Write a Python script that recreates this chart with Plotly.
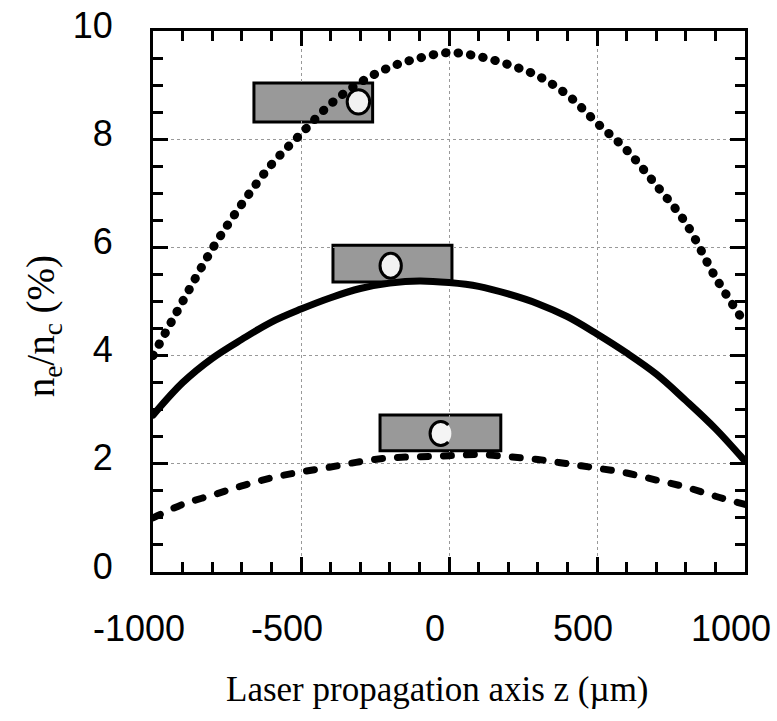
import plotly.graph_objects as go

# Electron density profiles along the laser axis for three gas-jet configurations
z_um = [-1000, -900, -800, -700, -600, -500, -400, -300, -200, -100, 0,
        100, 200, 300, 400, 500, 600, 700, 800, 900, 1000]

density_high = [4.0, 5.0, 5.97, 6.8, 7.53, 8.1, 8.65, 9.05, 9.33, 9.5, 9.6,
                9.53, 9.38, 9.17, 8.82, 8.3, 7.8, 7.15, 6.45, 5.45, 4.6]
density_mid = [2.9, 3.5, 3.95, 4.3, 4.62, 4.86, 5.07, 5.24, 5.34, 5.38, 5.35,
               5.28, 5.14, 4.96, 4.72, 4.4, 4.05, 3.66, 3.17, 2.65, 2.05]
density_low = [1.0, 1.25, 1.42, 1.59, 1.74, 1.85, 1.94, 2.04, 2.11, 2.13, 2.15,
               2.17, 2.13, 2.08, 2.0, 1.92, 1.83, 1.7, 1.57, 1.4, 1.25]

x_tick_vals = [-1000, -500, 0, 500, 1000]
x_tick_text = ["-1000", "-500", "0", "500", "1000"]
y_tick_vals = [0, 2, 4, 6, 8, 10]
y_tick_text = ["0", "2", "4", "6", "8", "10"]

# Nozzle sketches: (x0, x1, y0, y1) of the gray block, and ellipse centre/radii
nozzle_blocks = [(-659, -258, 8.32, 9.04), (-392, 10, 5.36, 6.04), (-233, 175, 2.24, 2.9)]
nozzle_holes = [(-306, 8.69, 38, 0.225), (-197, 5.66, 36, 0.23), (-28, 2.56, 36, 0.22)]

TICK_FONT = dict(family="Liberation Sans, Arial, sans-serif", size=36, color="black")
XTITLE_FONT = dict(family="Liberation Serif, Times New Roman, serif", size=35, color="black")
YTITLE_FONT = dict(family="Liberation Serif, Times New Roman, serif", size=39, color="black")

fig = go.Figure()
fig.add_trace(go.Scatter(x=z_um, y=density_high, mode="lines",
                         line=dict(color="black", width=9, dash="0.5px,12px", shape="spline")))
fig.add_trace(go.Scatter(x=z_um, y=density_mid, mode="lines",
                         line=dict(color="black", width=7, shape="spline")))
fig.add_trace(go.Scatter(x=z_um, y=density_low, mode="lines",
                         line=dict(color="black", width=7, dash="8px,15px", shape="spline")))


def c_outline(cx, cy, rx, ry):
    """Open ellipse outline (gap on the right side) as an SVG path in data units."""
    c45, k45, k90 = 0.7071, 0.2652, 0.5523
    p = lambda u, v: f"{cx + rx * u},{cy + ry * v}"
    return (f"M {p(c45, c45)} "
            f"C {p(c45 - k45 * c45, c45 + k45 * c45)} {p(k45, 1)} {p(0, 1)} "
            f"C {p(-k90, 1)} {p(-1, k90)} {p(-1, 0)} "
            f"C {p(-1, -k90)} {p(-k90, -1)} {p(0, -1)} "
            f"C {p(k45, -1)} {p(c45 - k45 * c45, -(c45 + k45 * c45))} {p(c45, -c45)}")


shapes = []
for (x0, x1, y0, y1) in nozzle_blocks:
    shapes.append(dict(type="rect", xref="x", yref="y", x0=x0, x1=x1, y0=y0, y1=y1,
                       fillcolor="#999999", line=dict(color="black", width=3), layer="below"))
for i, (cx, cy, rx, ry) in enumerate(nozzle_holes):
    if i < 2:
        shapes.append(dict(type="circle", xref="x", yref="y", x0=cx - rx, x1=cx + rx,
                           y0=cy - ry, y1=cy + ry, fillcolor="#f2f2f2",
                           line=dict(color="black", width=3), layer="above"))
    else:
        shapes.append(dict(type="circle", xref="x", yref="y", x0=cx - rx, x1=cx + rx,
                           y0=cy - ry, y1=cy + ry, fillcolor="#f4f4f4",
                           line=dict(width=0), layer="above"))
        shapes.append(dict(type="path", xref="x", yref="y", path=c_outline(cx, cy, rx, ry),
                           line=dict(color="black", width=3), layer="above"))

axis_common = dict(showline=True, linecolor="black", linewidth=3, mirror="ticks",
                   ticks="inside", ticklen=15, tickwidth=2.5, tickcolor="black",
                   showgrid=True, gridcolor="#999999", gridwidth=1, griddash="dot",
                   zeroline=False, tickfont=TICK_FONT, automargin=False)

fig.update_layout(
    width=777, height=721,
    margin=dict(l=153, r=32, t=31, b=149),
    paper_bgcolor="white", plot_bgcolor="white",
    showlegend=False,
    shapes=shapes,
    xaxis=dict(range=[-1000, 1000], tickvals=x_tick_vals, ticktext=x_tick_text,
               minor=dict(dtick=100, ticks="inside", ticklen=10, tickwidth=2.5,
                          tickcolor="black", showgrid=False),
               ticklabelshift=-14, ticklabelstandoff=23,
               **axis_common),
    yaxis=dict(range=[0, 10], tickvals=y_tick_vals, ticktext=y_tick_text,
               minor=dict(dtick=0.5, ticks="inside", ticklen=10, tickwidth=2.5,
                          tickcolor="black", showgrid=False),
               ticklabelshift=-6, ticklabelstandoff=30,
               **axis_common),
    annotations=[
        dict(text="n<sub>e</sub>/n<sub>c</sub> (%)", textangle=-90,
             xref="paper", yref="paper", x=-0.185, y=0.455,
             xanchor="center", yanchor="middle", showarrow=False, font=YTITLE_FONT),
        dict(text="Laser propagation axis z (\u00b5m)",
             xref="paper", yref="paper", x=0.48, y=-0.218,
             xanchor="center", yanchor="middle", showarrow=False, font=XTITLE_FONT),
    ],
)

round_caps = ("var s=document.createElement('style');"
              "s.textContent='.scatterlayer .js-line{stroke-linecap:round;stroke-linejoin:round}';"
              "document.head.appendChild(s);")
fig.write_html("out.html", post_script=round_caps)
